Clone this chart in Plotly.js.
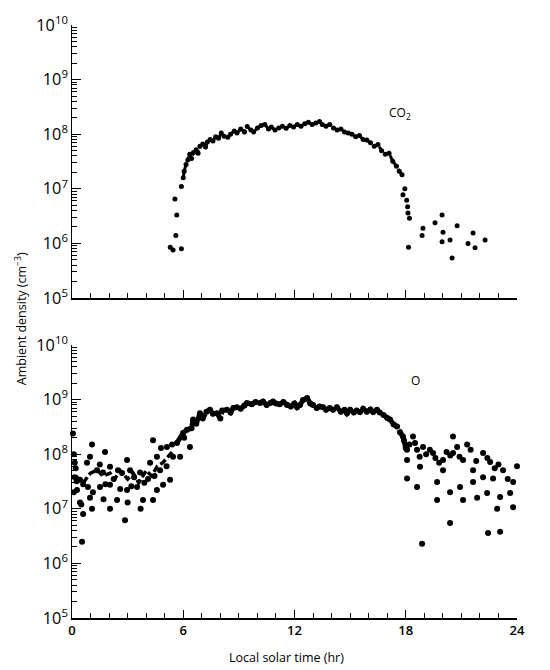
<!DOCTYPE html>
<html><head><meta charset="utf-8">
<script src="https://cdn.plot.ly/plotly-3.0.1.min.js"></script>
<style>body{margin:0;background:#fff}#c{width:550px;height:670px}</style>
</head><body><div id="c"></div>
<script>
// ---- CO2 panel (top) ----
// continuous arc of blobs (sorted by time)
const co2ArcTime = [6.0,6.05,6.15,6.25,6.35,6.45,6.55,6.7,6.8,6.9,7.05,7.2,7.3,7.45,7.6,7.75,7.9,8.05,8.2,8.4,8.55,8.75,8.9,9.1,9.3,9.45,9.65,9.8,10.0,10.2,10.4,10.6,10.75,10.95,11.15,11.35,11.55,11.75,11.95,12.15,12.35,12.55,12.75,12.95,13.15,13.35,13.5,13.7,13.9,14.1,14.3,14.5,14.7,14.9,15.1,15.3,15.5,15.7,15.9,16.1,16.3,16.5,16.7,16.9,17.1,17.3,17.5,17.65,17.8];
const co2ArcDensity = [1.6e7,2.1e7,2.8e7,3.4e7,4.3e7,3.6e7,4.6e7,5.2e7,4.5e7,6.0e7,6.6e7,5.8e7,7.2e7,8.0e7,7.5e7,9.0e7,8.4e7,1.05e8,9.2e7,8.8e7,1.0e8,1.15e8,1.05e8,1.25e8,1.1e8,1.38e8,1.2e8,1.1e8,1.3e8,1.45e8,1.5e8,1.25e8,1.35e8,1.2e8,1.3e8,1.4e8,1.28e8,1.45e8,1.35e8,1.5e8,1.4e8,1.55e8,1.65e8,1.5e8,1.6e8,1.7e8,1.5e8,1.4e8,1.5e8,1.3e8,1.2e8,1.25e8,1.1e8,1.05e8,1.0e8,9.0e7,9.5e7,8.0e7,7.8e7,7.0e7,6.0e7,6.5e7,5.0e7,4.3e7,4.5e7,3.2e7,2.6e7,2.1e7,1.8e7];
// isolated blobs (rise, fall and night-side tail)
const co2DotTime = [5.3,5.45,5.6,5.9,5.65,5.55,5.9,17.95,17.85,18.05,18.1,18.12,18.2,18.15,19.96,19.58,18.93,18.88,20.01,20.77,19.96,20.39,21.63,21.36,21.74,22.28,20.5];
const co2DotDensity = [8.5e5,7.6e5,1.4e6,8e5,3.3e6,6.5e6,1.1e7,1.0e7,7.8e6,6.2e6,4.7e6,3.6e6,2.9e6,8.5e5,3.3e6,2.4e6,1.9e6,1.4e6,1.6e6,2.1e6,1.07e6,1.16e6,1.55e6,1.0e6,8.3e5,1.16e6,5.4e5];

// ---- O panel (bottom) ----
// dayside band (sorted by time)
const oDayTime = [5.66,5.99,6.2,6.45,6.53,6.7,6.9,7.05,7.25,7.44,7.6,7.82,8.0,8.1,8.36,8.55,8.7,8.9,9.1,9.3,9.44,9.7,9.9,10.14,10.3,10.5,10.7,10.84,11.0,11.2,11.4,11.6,11.8,12.0,12.14,12.3,12.46,12.68,12.85,13.0,13.2,13.35,13.54,13.7,13.9,14.08,14.29,14.5,14.7,14.83,15.0,15.2,15.35,15.53,15.7,15.9,16.1,16.24,16.45,16.6,16.8,17.0,17.15,17.35,17.53,17.7,17.85,18.0];
const oDayDensity = [1.6e8,2.45e8,2.8e8,3.0e8,4.3e8,3.6e8,5.6e8,4.5e8,6.0e8,6.5e8,5.5e8,5.6e8,4.5e8,6.3e8,6.5e8,5.8e8,7.0e8,7.2e8,6.8e8,7.8e8,8.7e8,8.2e8,9.0e8,8.7e8,9.2e8,8.0e8,8.7e8,9.2e8,8.5e8,8.2e8,9.0e8,8.0e8,7.5e8,8.5e8,7.2e8,8.0e8,9.8e8,1.07e9,8.5e8,8.0e8,7.0e8,7.5e8,7.2e8,6.5e8,7.0e8,6.5e8,7.2e8,6.0e8,6.5e8,5.6e8,6.5e8,5.8e8,6.3e8,5.9e8,6.8e8,6.0e8,6.6e8,5.9e8,6.5e8,5.8e8,5.2e8,4.6e8,4.3e8,3.5e8,3.2e8,2.5e8,2.1e8,1.3e8];
// night-side worm-like band before dawn (sorted by time)
const oNightBandTime = [0.2,0.6,1.0,1.35,1.67,2.05,2.3,2.6,3.0,3.3,3.6,4.0,4.3,4.6,4.9,5.2,5.5];
const oNightBandDensity = [4e7,3e7,4.5e7,5.1e7,4.0e7,4.5e7,3.5e7,5e7,3.5e7,4.5e7,3.0e7,5e7,4e7,6e7,7e7,9e7,1.2e8];
// scattered blobs
const oDotTime = [0.05,0.1,0.15,0.2,0.15,0.25,0.27,0.1,0.43,0.5,0.43,0.6,0.81,0.97,1.08,0.86,0.97,1.08,1.13,0.54,0.6,1.35,1.5,1.67,1.78,2.05,1.51,1.8,2.05,2.25,2.48,2.7,2.97,3.13,2.97,3.2,2.43,2.05,1.7,2.86,3.0,3.35,3.51,3.67,3.83,3.9,4.1,4.21,4.37,4.45,4.58,4.58,4.75,4.91,5.1,5.29,5.45,4.37,4.8,5.12,5.4,5.83,3.7,2.6,6.05,6.36,
  17.9,18.07,18.07,18.2,18.39,18.5,18.61,18.75,18.93,19.1,19.3,19.47,19.6,19.8,20.01,20.2,20.4,20.55,20.77,20.55,20.9,21.09,21.31,21.5,21.63,21.8,22.17,22.4,22.55,22.8,23.0,23.25,23.5,23.79,24.0,23.63,23.09,22.39,21.85,21.09,20.39,20.01,19.69,19.69,18.77,18.07,18.61,22.17,22.71,21.63,20.93,22.93,23.79,20.39,22.44,23.09,18.88];
const oDotDensity = [2.4e8,1.0e8,7e7,5.5e7,3.8e7,3.2e7,2.2e7,2.0e7,1.3e7,1.2e7,3.4e7,2.8e7,7e7,9e7,1.5e8,2.5e7,1.6e7,1.0e7,2.0e7,2.5e6,8e6,5.1e7,6.5e7,4.6e7,1.1e8,5.9e7,2.5e7,2.8e7,2.75e7,3.5e7,5.1e7,4.5e7,7.8e7,5.1e7,2.2e7,2.6e7,1.45e7,1.0e7,1.5e7,6.2e6,1.3e7,3.8e7,2.5e7,4.6e7,1.45e7,3.0e7,3.5e7,7e7,1.45e7,4.0e7,9e7,2.2e7,5.1e7,2.75e7,6e7,3.4e7,9e7,1.8e8,1.3e8,1.35e8,1.5e8,9e7,1.0e7,2.3e7,2.0e8,1.35e8,
  1.8e8,1.2e8,7.8e7,1.5e8,2.1e8,1.6e8,1.2e8,9e7,1.35e8,1.0e8,1.2e8,1.05e8,8.5e7,7.0e7,7.8e7,1.1e8,9.5e7,2.1e8,1.35e8,1.05e8,9.0e7,7.8e7,1.5e8,1.2e8,5.1e7,7.5e7,1.05e8,8.5e7,7.2e7,5.5e7,6.5e7,5.1e7,3.5e7,3.1e7,6e7,1.95e7,1.65e7,1.95e7,1.6e7,1.45e7,2.0e7,5.1e7,3.1e7,1.45e7,5.9e7,3.6e7,2.5e7,3.8e7,3.6e7,3.1e7,2.5e7,1.0e7,1.07e7,5.5e6,3.6e6,3.8e6,2.3e6];

// species label positions (time, density)
const co2LabelAt = [17.0, 2.4e8];
const oLabelAt = [18.2, 2.2e9];

const xTicks = [0,6,12,18,24];
const FONT = '"Open Sans", "DejaVu Sans", sans-serif';

const traces = [
  {x:co2ArcTime, y:co2ArcDensity, xaxis:'x', yaxis:'y', mode:'lines+markers', type:'scatter',
    line:{color:'#000', width:3, dash:'6px,2px'}, marker:{color:'#000', size:5}, cliponaxis:false, hoverinfo:'skip'},
  {x:co2DotTime, y:co2DotDensity, xaxis:'x', yaxis:'y', mode:'markers', type:'scatter',
    marker:{color:'#000', size:5}, cliponaxis:false, hoverinfo:'skip'},
  {x:oDayTime, y:oDayDensity, xaxis:'x2', yaxis:'y2', mode:'lines+markers', type:'scatter',
    line:{color:'#000', width:5, dash:'10px,2px'}, marker:{color:'#000', size:6}, cliponaxis:false, hoverinfo:'skip'},
  {x:oNightBandTime, y:oNightBandDensity, xaxis:'x2', yaxis:'y2', mode:'lines', type:'scatter',
    line:{color:'#000', width:3.5, dash:'7px,3px'}, cliponaxis:false, hoverinfo:'skip'},
  {x:oDotTime, y:oDotDensity, xaxis:'x2', yaxis:'y2', mode:'markers', type:'scatter',
    marker:{color:'#000', size:6}, cliponaxis:false, hoverinfo:'skip'}
];

function xax(anchor, labels){
  return {anchor:anchor, domain:[0,1], range:[0,24], tickmode:'array', tickvals:xTicks,
    showticklabels:labels, ticks:'inside', ticklen:8, tickwidth:1.2, tickcolor:'#000',
    minor:{ticks:'inside', ticklen:5, tickwidth:1, tickcolor:'#000', dtick:1, tick0:0, tickmode:'linear'},
    showline:true, linecolor:'#000', linewidth:1.5, showgrid:false, zeroline:false,
    tickfont:{family:FONT, size:13, color:'#000', weight:600}};
}
function yax(anchor, domain){
  return {anchor:anchor, domain:domain, type:'log', range:[5,10], dtick:1, tick0:0,
    exponentformat:'power', showexponent:'all',
    ticks:'inside', ticklen:9, tickwidth:1.2, tickcolor:'#000',
    minor:{ticks:'inside', ticklen:5, tickwidth:1, tickcolor:'#000', dtick:'D1'},
    showline:true, linecolor:'#000', linewidth:1.5, showgrid:false, zeroline:false,
    tickfont:{family:FONT, size:13, color:'#000'}};
}

const layout = {
  width:550, height:670, showlegend:false,
  paper_bgcolor:'#fff', plot_bgcolor:'#fff',
  margin:{l:72, r:33, t:25, b:52},
  xaxis: xax('y', false),
  yaxis: yax('x', [0.5396, 1]),
  xaxis2: xax('y2', true),
  yaxis2: yax('x2', [0, 0.4604]),
  annotations:[
    {xref:'paper', yref:'paper', x:-0.14, y:0.505, text:'Ambient density (cm<sup>−3</sup>)', textangle:-90, showarrow:false, font:{family:FONT, size:12.5, color:'#000'}},
    {xref:'paper', yref:'paper', x:0.483, y:-0.049, yanchor:'top', text:'Local solar time (hr)', showarrow:false, font:{family:FONT, size:12.5, color:'#000'}},
    // annotations on log axes take log10 of the value
    {xref:'x', yref:'y', x:co2LabelAt[0], y:Math.log10(co2LabelAt[1]), text:'CO<sub>2</sub>', showarrow:false, xanchor:'left', font:{family:FONT, size:12, color:'#000'}},
    {xref:'x2', yref:'y2', x:oLabelAt[0], y:Math.log10(oLabelAt[1]), text:'O', showarrow:false, xanchor:'left', font:{family:FONT, size:12, color:'#000'}}
  ]
};
Plotly.newPlot('c', traces, layout, {staticPlot:true});
</script></body></html>
